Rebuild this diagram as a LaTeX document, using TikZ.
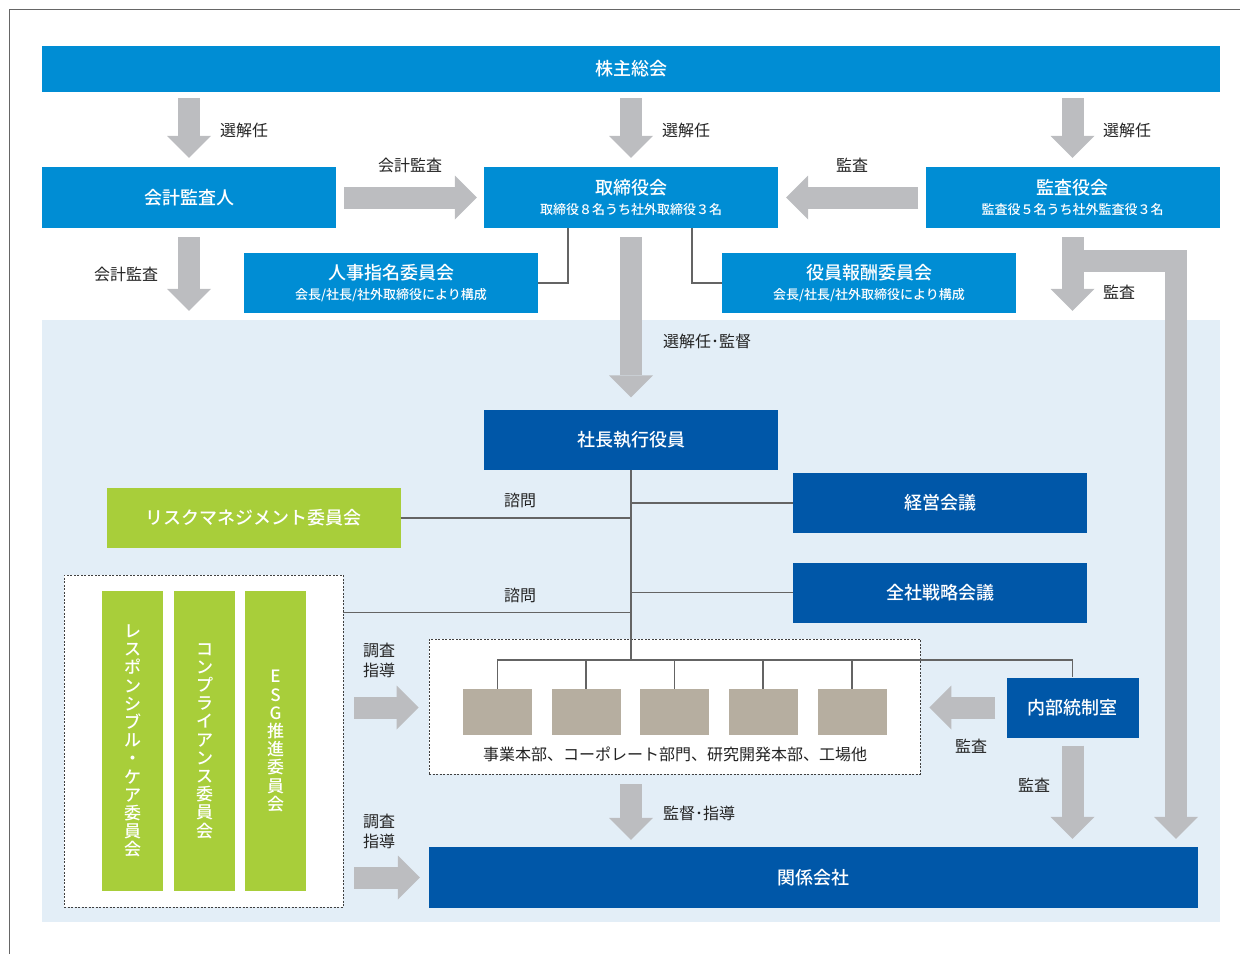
\documentclass[tikz,border=0pt]{standalone}
\usepackage{fontspec}
\setmainfont{Noto Sans CJK JP}
\newfontfamily\medfont{Noto Sans CJK JP}[UprightFont = * Medium]
\usetikzlibrary{arrows.meta}

\definecolor{midblue}{RGB}{0,141,212}
\definecolor{darkblue}{RGB}{0,87,168}
\definecolor{leafgreen}{RGB}{168,206,58}
\definecolor{deptgray}{RGB}{182,174,160}
\definecolor{arrowgray}{RGB}{188,189,192}
\definecolor{paleblue}{RGB}{227,238,247}
\definecolor{linegray}{RGB}{100,100,100}
\definecolor{inkgray}{RGB}{35,35,35}

\newcommand{\ttlsize}{\medfont\fontsize{18}{21}\selectfont}
\newcommand{\subsize}{\fontsize{13}{15}\selectfont}
\newcommand{\lblsize}{\fontsize{16}{20}\selectfont}

\tikzset{panel/.style = {inner sep = 0, text = white, font = \ttlsize, align = center}}
\tikzset{midbox/.style = {panel, fill = midblue, minimum width = 294pt, minimum height = 61pt}}
\tikzset{darkbox/.style = {panel, fill = darkblue, minimum width = 294pt, minimum height = 60pt}}
\tikzset{greenbox/.style = {panel, fill = leafgreen, minimum width = 294pt, minimum height = 60pt}}
\tikzset{tatebox/.style = {panel, fill = leafgreen, minimum width = 61pt, minimum height = 300pt, font = \medfont\fontsize{17}{18.2}\selectfont}}
\tikzset{deptblock/.style = {fill = deptgray, inner sep = 0, minimum width = 69pt, minimum height = 46pt}}
\tikzset{dashbox/.style = {draw = black!75, fill = white, line width = 0.9pt, dash pattern = on 2pt off 1.5pt, inner sep = 0}}
\tikzset{lbl/.style = {text = inkgray, font = \lblsize, inner sep = 0}}
\tikzset{link/.style = {draw = linegray, line width = 1.5pt}}
\tikzset{blockarrow/.style = {draw = arrowgray, line width = 22pt, -{Triangle[length = 22pt, width = 44pt, line width = 0pt]}}}

\begin{document}
\begin{tikzpicture}[x = 1pt, y = -1pt]
    \useasboundingbox (0,0) rectangle (1240,954);
    \draw[black!60, line width = 1.2pt] (9.5,954) -- (9.5,9.5) -- (1240,9.5);

    \node[fill = paleblue, inner sep = 0, minimum width = 1178pt, minimum height = 602pt] (exec) at (631,621) {};

    \node[midbox, minimum width = 1178pt, minimum height = 46pt] (agm) at (631,69) {株主総会};
    \node[midbox] (acct) at (189,197.5) {会計監査人};
    \node[midbox] (board) at (631,197.5) {取締役会\\[-1pt]{\subsize 取締役８名うち社外取締役３名}};
    \node[midbox] (audit) at (1072.5,197.5) {監査役会\\[-1pt]{\subsize 監査役５名うち社外監査役３名}};
    \node[midbox, minimum height = 60pt] (nomcom) at (391,283) {人事指名委員会\\[-1pt]{\subsize 会長/社長/社外取締役により構成}};
    \node[midbox, minimum height = 60pt] (remcom) at (869,283) {役員報酬委員会\\[-1pt]{\subsize 会長/社長/社外取締役により構成}};

    \node[darkbox] (ceo) at (631,439.5) {社長執行役員};
    \node[darkbox] (mgmt) at (940,503) {経営会議};
    \node[darkbox] (strat) at (940,592.5) {全社戦略会議};
    \node[greenbox] (risk) at (253.5,518) {リスクマネジメント委員会};

    % committees under the president
    \node[dashbox, minimum width = 279pt, minimum height = 332pt] (cmtbox) at (203.5,741) {};
    \node[tatebox] (resp) at (132.5,741) {レ\\ス\\ポ\\ン\\シ\\ブ\\ル\\・\\ケ\\ア\\委\\員\\会};
    \node[tatebox] (comp) at (204.5,741) {コ\\ン\\プ\\ラ\\イ\\ア\\ン\\ス\\委\\員\\会};
    \node[tatebox] (esg) at (275.5,741) {E\\S\\G\\推\\進\\委\\員\\会};

    % divisions
    \node[dashbox, minimum width = 491pt, minimum height = 135pt] (deptbox) at (674.5,706.5) {};
    \foreach \x [count = \i] in {497.5,586,674.5,763,852}
        \node[deptblock] (d\i) at (\x,712) {};
    \node[lbl] (deptlbl) at (675,754) {事業本部、コーポレート部門、研究開発本部、工場他};

    \node[darkbox, minimum width = 132pt] (ia) at (1072.5,707.5) {内部統制室};
    \node[darkbox, minimum width = 769pt, minimum height = 61pt] (affil) at (813.5,877.5) {関係会社};

    % thin lines
    \draw[link] ([xshift=-63pt]board.south) |- (nomcom.east);
    \draw[link] ([xshift=61pt]board.south) |- (remcom.west);
    \draw[link] (ceo.south) -- ([yshift=29pt]ceo.south |- d1.north);
    \draw[link] (d1.north) -- ++(0,-29) -| (ia.north);
    \foreach \i in {2,...,5}
        \draw[link] (d\i.north) -- ++(0,-29);
    \draw[link] (mgmt.west) -- (mgmt.west -| ceo.south);
    \draw[link] (strat.west) -- (strat.west -| ceo.south);
    \draw[link] (risk.east) -- (risk.east -| ceo.south);
    \draw[link] ([yshift=-38pt]cmtbox.north east) -- ([yshift=-38pt]cmtbox.north east -| ceo.south);

    % block arrows
    \draw[blockarrow] ([yshift=-6pt]agm.south -| acct.north) -- ([yshift=9pt]acct.north);
    \draw[blockarrow] ([yshift=-6pt]agm.south -| board.north) -- ([yshift=9pt]board.north);
    \draw[blockarrow] ([yshift=-6pt]agm.south -| audit.north) -- ([yshift=9pt]audit.north);
    \draw[blockarrow] ([xshift=8pt]acct.east) -- ([xshift=-7pt]board.west);
    \draw[blockarrow] ([xshift=-7pt]audit.west) -- ([xshift=8pt]board.east);
    \draw[blockarrow] ([yshift=-9pt]acct.south) -- ([yshift=9pt]exec.north -| acct.south);
    \draw[blockarrow] ([yshift=-9pt]audit.south) -- ([yshift=9pt]exec.north -| audit.south);
    \draw[blockarrow] ([yshift=-33pt]audit.south) -| ([yshift=8pt]affil.north -| 1176,0);
    \draw[blockarrow] ([yshift=-9pt]board.south) -- ([yshift=12pt]ceo.north);
    \draw[blockarrow] ([xshift=-11pt]ia.west) -- ([xshift=9pt]deptbox.east |- ia.west);
    \draw[blockarrow] ([yshift=-8pt]ia.south) -- ([yshift=8pt]affil.north -| ia.south);
    \draw[blockarrow] ([yshift=-10pt]deptbox.south -| ceo.south) -- ([yshift=7pt]affil.north -| ceo.south);
    \draw[blockarrow] ([xshift=11pt]cmtbox.east |- ia.west) -- ([xshift=-10pt]deptbox.west |- ia.west);
    \draw[blockarrow] ([xshift=11pt]cmtbox.east |- affil.west) -- ([xshift=-9pt]affil.west);

    % labels
    \node[lbl] (sel1) at (244,130) {選解任};
    \node[lbl] (sel2) at (686,130) {選解任};
    \node[lbl] (sel3) at (1127,130) {選解任};
    \node[lbl] (acc1) at (410,165) {会計監査};
    \node[lbl] (aud1) at (852,165) {監査};
    \node[lbl] (acc2) at (126,274) {会計監査};
    \node[lbl] (aud2) at (1119,292) {監査};
    \node[lbl] (selsup) at (707,341) {選解任･監督};
    \node[lbl] (adv1) at (520,500) {諮問};
    \node[lbl] (adv2) at (520,595) {諮問};
    \node[lbl, align = center] (inv1) at (379,660) {調査\\指導};
    \node[lbl, align = center] (inv2) at (379,831) {調査\\指導};
    \node[lbl] (aud3) at (971,746) {監査};
    \node[lbl] (aud4) at (1034,785) {監査};
    \node[lbl] (supv) at (699,813) {監督･指導};
\end{tikzpicture}
\end{document}
